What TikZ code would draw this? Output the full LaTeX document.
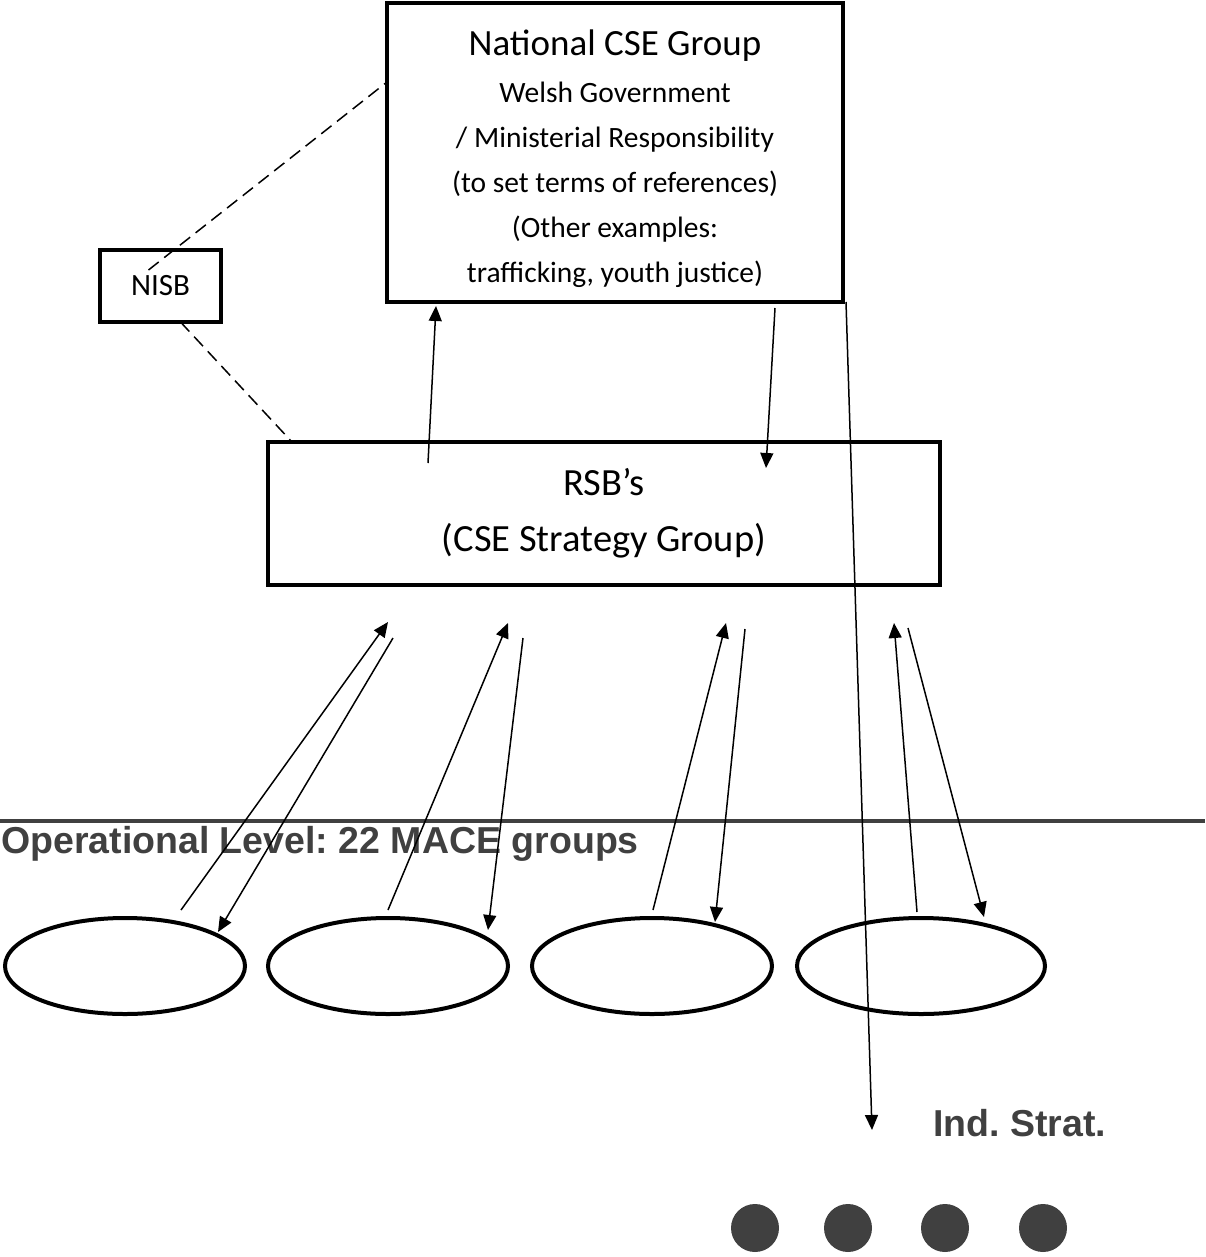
\documentclass[tikz,border=0pt]{standalone}
\usepackage{fontspec}
\setmainfont{Carlito}
\newfontfamily\levelfont{Liberation Sans}
\usetikzlibrary{arrows.meta}
\usetikzlibrary{shapes.geometric}
\definecolor{levelgray}{RGB}{64,64,64}
\tikzset{box/.style={rectangle,draw=black,line width=4pt,outer sep=0pt,inner sep=0pt,align=center}}
\tikzset{group/.style={ellipse,draw=black,line width=4pt,outer sep=0pt,inner sep=0pt,minimum height=96pt}}
\tikzset{link/.style={draw=black,line width=1.5pt,-{Triangle[length=15pt,width=13pt]}}}
\tikzset{links/.style={every edge/.style=link}}
\tikzset{tie/.style={draw=black,line width=1.5pt,dash pattern=on 13pt off 7pt}}
\tikzset{level/.style={font=\levelfont\bfseries\fontsize{37.5}{45}\selectfont\frenchspacing,text=levelgray,inner sep=0pt}}

\begin{document}
\begin{tikzpicture}[x=1pt,y=-1pt]
  \useasboundingbox (0,0) rectangle (1205,1257);
  \node [box,minimum width=456pt,minimum height=299pt,font=\fontsize{29.5}{45}\selectfont] (national) at (615,152.5)
    {\rule{0pt}{38pt}{\fontsize{37}{45}\selectfont National CSE Group}\\[2pt]
     Welsh Government\\ / Ministerial Responsibility\\ (to set terms of references)\\
     (Other examples:\\ trafficking, youth justice)};
  \node [box,minimum width=121pt,minimum height=72pt,font=\fontsize{31}{36}\selectfont] (nisb) at (160.5,286) {NISB};
  \node [box,minimum width=672pt,minimum height=143pt,font=\fontsize{38.5}{46}\selectfont] (rsb) at (604,513.5)
    {RSB’s\\[10pt] (CSE Strategy Group)};
  \node [group,minimum width=240pt] (mace1) at (125,966) {};
  \node [group,minimum width=240pt] (mace2) at (388,966) {};
  \node [group,minimum width=240pt] (mace3) at (652,966) {};
  \node [group,minimum width=248pt] (mace4) at (921,966) {};
  \draw [line width=4pt,draw=levelgray] (0,821) -- (1205,821);
  \node [level,anchor=base west] (operational) at (1,853) {Operational Level: 22 MACE groups};
  \node [level,anchor=base west] (indstrat) at (933,1136) {Ind. Strat.};
  \foreach \x [count=\i] in {755,848,945,1043}
    \node [circle,fill=levelgray,minimum size=48pt,inner sep=0pt] (dot\i) at (\x,1228) {};
  \coordinate (stratend) at (872,1130);
  % dashed ties to NISB
  \path [tie] ([xshift=-12pt,yshift=16pt]nisb.center) -- ([yshift=-79pt]national.north west);
  \path [tie] ([xshift=20pt]nisb.south) -- ([xshift=24pt]rsb.north west);
  % national <-> rsb
  \path [links]
  ([xshift=160pt,yshift=-21pt]rsb.north west) edge ([xshift=49pt,yshift=-4pt]national.south west)
  ([xshift=388pt,yshift=-6pt]national.south west) edge ([xshift=498pt,yshift=-26pt]rsb.north west)
  ([xshift=3pt]national.south east) edge (stratend);
  % rsb <-> mace groups
  \path [links]
  ([xshift=56pt,yshift=8pt]mace1.north) edge ([xshift=120pt,yshift=-37pt]rsb.south west)
  ([xshift=125pt,yshift=-53pt]rsb.south west) edge ([xshift=93pt,yshift=-14pt]mace1.north)
  ([yshift=8pt]mace2.north) edge ([xshift=240pt,yshift=-38pt]rsb.south west)
  ([xshift=255pt,yshift=-53pt]rsb.south west) edge ([xshift=100pt,yshift=-12pt]mace2.north)
  ([xshift=1pt,yshift=8pt]mace3.north) edge ([xshift=458pt,yshift=-38pt]rsb.south west)
  ([xshift=477pt,yshift=-44pt]rsb.south west) edge ([xshift=63pt,yshift=-4pt]mace3.north)
  ([xshift=-4pt,yshift=6pt]mace4.north) edge ([xshift=626pt,yshift=-38pt]rsb.south west)
  ([xshift=640pt,yshift=-43pt]rsb.south west) edge ([xshift=63pt,yshift=1pt]mace4.north);
\end{tikzpicture}
\end{document}
